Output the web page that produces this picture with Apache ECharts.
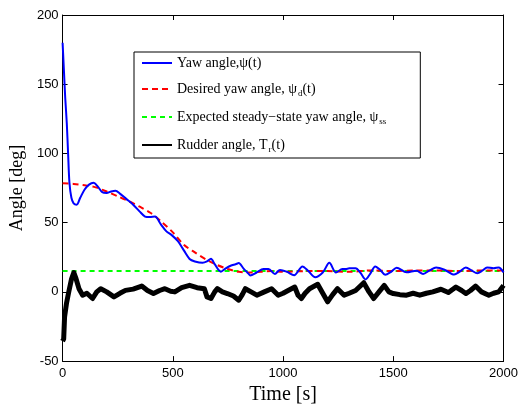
<!DOCTYPE html>
<html>
<head>
<meta charset="utf-8">
<script src="https://cdn.jsdelivr.net/npm/echarts@6/dist/echarts.min.js"></script>
<style>html,body{margin:0;padding:0;background:#fff}#c{width:521px;height:410px}</style>
</head>
<body>
<div id="c"></div>
<script>
// ---- data ----
const xTicks = [0, 500, 1000, 1500, 2000];
const yTicks = [-50, 0, 50, 100, 150, 200];

const yawTime = [0,6,12,19,25,31,40,50,64,80,100,120,140,160,180,200,220,240,260,290,320,350,374,395,419,445,471,495,523,550,576,600,635,655,673,690,718,740,762,785,799,820,844,851,880,911,934,963,986,1016,1050,1088,1115,1146,1180,1210,1240,1269,1284,1300,1329,1350,1374,1395,1418,1440,1463,1490,1515,1560,1605,1635,1665,1694,1732,1776,1800,1829,1855,1881,1905,1925,1955,1978,2000];
const yawValue = [180,160,140,122,100,79,68,64,63,68,74,77.5,78.8,76,72,71.5,72.5,73,71,67,63,58,54.4,54,54.4,49,43.7,41,36.6,30,23.8,22,21,22,24,20,14.6,17,18.9,20,20.8,17,13,11.8,14,16.5,16.5,13,15.8,14.6,12,18.4,15,10.6,14,21,14,16.5,16.5,17,17,14,9,13,18.4,16,12.3,14.5,17.5,14.1,15.3,13,15.5,17.7,16,12.5,14.5,17.7,15.5,13.4,15.5,17.7,17,17.7,14.1];

const desiredTime = [0,50,100,150,200,250,300,350,400,450,500,550,600,650,700,750,800,850,900,950,1000,1100,1200,1300,1400,1500,1600,1700,1800,1900,2000];
const desiredValue = [78.5,78,77,75.5,72.5,69,65.5,61.5,57,50.5,43,34,28.5,23.5,19.5,16.5,14.5,14,14.5,15,14.5,15,15,14.5,15.5,15,15.5,15.5,15,15.5,15.5];

const ssTime = [0, 2000];
const ssValue = [15, 15];

const rudderTime = [0,5,9,18,28,40,51,60,75,91,110,136,155,173,200,233,260,285,320,359,385,412,440,464,490,509,540,576,610,643,655,673,690,702,725,747,775,799,815,829,855,881,915,948,978,1000,1023,1053,1068,1083,1100,1120,1157,1180,1202,1225,1247,1277,1300,1329,1366,1390,1411,1435,1459,1480,1500,1530,1560,1590,1620,1650,1679,1716,1750,1784,1810,1829,1850,1873,1900,1933,1955,1978,2000];
const rudderValue = [-35.6,-34,-18,-8,0,9,14,10,2,-2.4,-1,-4.8,0,2.3,0,-3.6,-1,1.1,2,4.2,1,-1.2,1,2.3,0.5,0,3,4.7,3,2.3,-3.6,-4.8,0,2.3,0,-1.2,-3,-6,-2,2.3,0,-2.4,0,2.3,-2.4,-1,1,3.5,-2.4,-4.8,-1,2.3,5.5,-1,-7.2,-2,2.3,-2.4,-1,1,6.6,0,-4.8,0,4.7,0,-1.2,-2,-2.4,-1,-2.4,-1,0,1.9,-0.5,3.5,1,-1.2,1,4.2,0,-2.4,-1,0,4.7];

const pairs = (xs, ys) => xs.map((x, i) => [x, ys[i]]);

const serif = 'Liberation Serif';
const sans = 'Liberation Sans';

const legendText = {
  yaw: '{t|Yaw angle,ψ(t)}',
  desired: '{t|Desired yaw angle, ψ}{s|d}{t|(t)}',
  ss: '{t|Expected steady−state yaw angle, ψ}{s|ss}',
  rudder: '{t|Rudder angle, T}{s|r}{t|(t)}'
};

const axisCommon = {
  type: 'value',
  axisLine: { show: true, onZero: false, lineStyle: { color: '#000', width: 1 } },
  axisTick: { show: true, inside: true, length: 5, lineStyle: { color: '#000' } },
  splitLine: { show: false }
};

const chart = echarts.init(document.getElementById('c'), null, { renderer: 'canvas' });
chart.setOption({
  animation: false,
  backgroundColor: '#fff',
  grid: { left: 58, right: 16, top: 15, bottom: 43, containLabel: false },
  legend: {
    orient: 'vertical',
    left: 134, top: 52,
    padding: [4, 34, 4, 7],
    itemGap: 12,
    itemWidth: 30, itemHeight: 14,
    borderColor: '#000', borderWidth: 1,
    backgroundColor: '#fff',
    selectedMode: false,
    itemStyle: { opacity: 0 },
    data: ['yaw', 'desired', 'ss', 'rudder'],
    formatter: n => legendText[n],
    textStyle: {
      rich: {
        t: { fontFamily: serif, fontSize: 14, color: '#000' },
        s: { fontFamily: serif, fontSize: 9, color: '#000', padding: [9, 0, 0, 1] }
      }
    }
  },
  xAxis: [
    Object.assign({}, axisCommon, {
      position: 'bottom', min: xTicks[0], max: xTicks[xTicks.length - 1], interval: 500,
      axisLabel: { color: '#000', fontFamily: sans, fontSize: 13, margin: 6, formatter: v => String(v) },
      name: 'Time [s]', nameLocation: 'middle', nameGap: 21,
      nameTextStyle: { fontFamily: serif, fontSize: 20, color: '#000' }
    }),
    Object.assign({}, axisCommon, {
      position: 'top', min: xTicks[0], max: xTicks[xTicks.length - 1], interval: 500,
      axisLabel: { show: false }
    })
  ],
  yAxis: [
    Object.assign({}, axisCommon, {
      position: 'left', min: yTicks[0], max: yTicks[yTicks.length - 1], interval: 50,
      axisLabel: { color: '#000', fontFamily: sans, fontSize: 13, margin: 4, formatter: v => String(v) },
      name: 'Angle [deg]', nameLocation: 'middle', nameGap: 33, nameRotate: 90,
      nameTextStyle: { fontFamily: serif, fontSize: 18, color: '#000' }
    }),
    Object.assign({}, axisCommon, {
      position: 'right', min: yTicks[0], max: yTicks[yTicks.length - 1], interval: 50,
      axisLabel: { show: false }
    })
  ],
  series: [
    {
      name: 'ss', type: 'line', data: pairs(ssTime, ssValue), symbol: 'none', z: 2,
      lineStyle: { color: '#00ff00', width: 2, type: [5, 4] }, itemStyle: { color: '#00ff00' }
    },
    {
      name: 'rudder', type: 'line', data: pairs(rudderTime, rudderValue), symbol: 'none', z: 3,
      lineStyle: { color: '#000', width: 5, join: 'round' }, itemStyle: { color: '#000' }
    },
    {
      name: 'desired', type: 'line', data: pairs(desiredTime, desiredValue), symbol: 'none', smooth: 0.3, z: 4,
      lineStyle: { color: '#ff0000', width: 2, type: [6, 4] }, itemStyle: { color: '#ff0000' }
    },
    {
      name: 'yaw', type: 'line', data: pairs(yawTime, yawValue), symbol: 'none', smooth: 0.3, z: 5,
      lineStyle: { color: '#0000ff', width: 2 }, itemStyle: { color: '#0000ff' }
    }
  ]
});
</script>
</body>
</html>
